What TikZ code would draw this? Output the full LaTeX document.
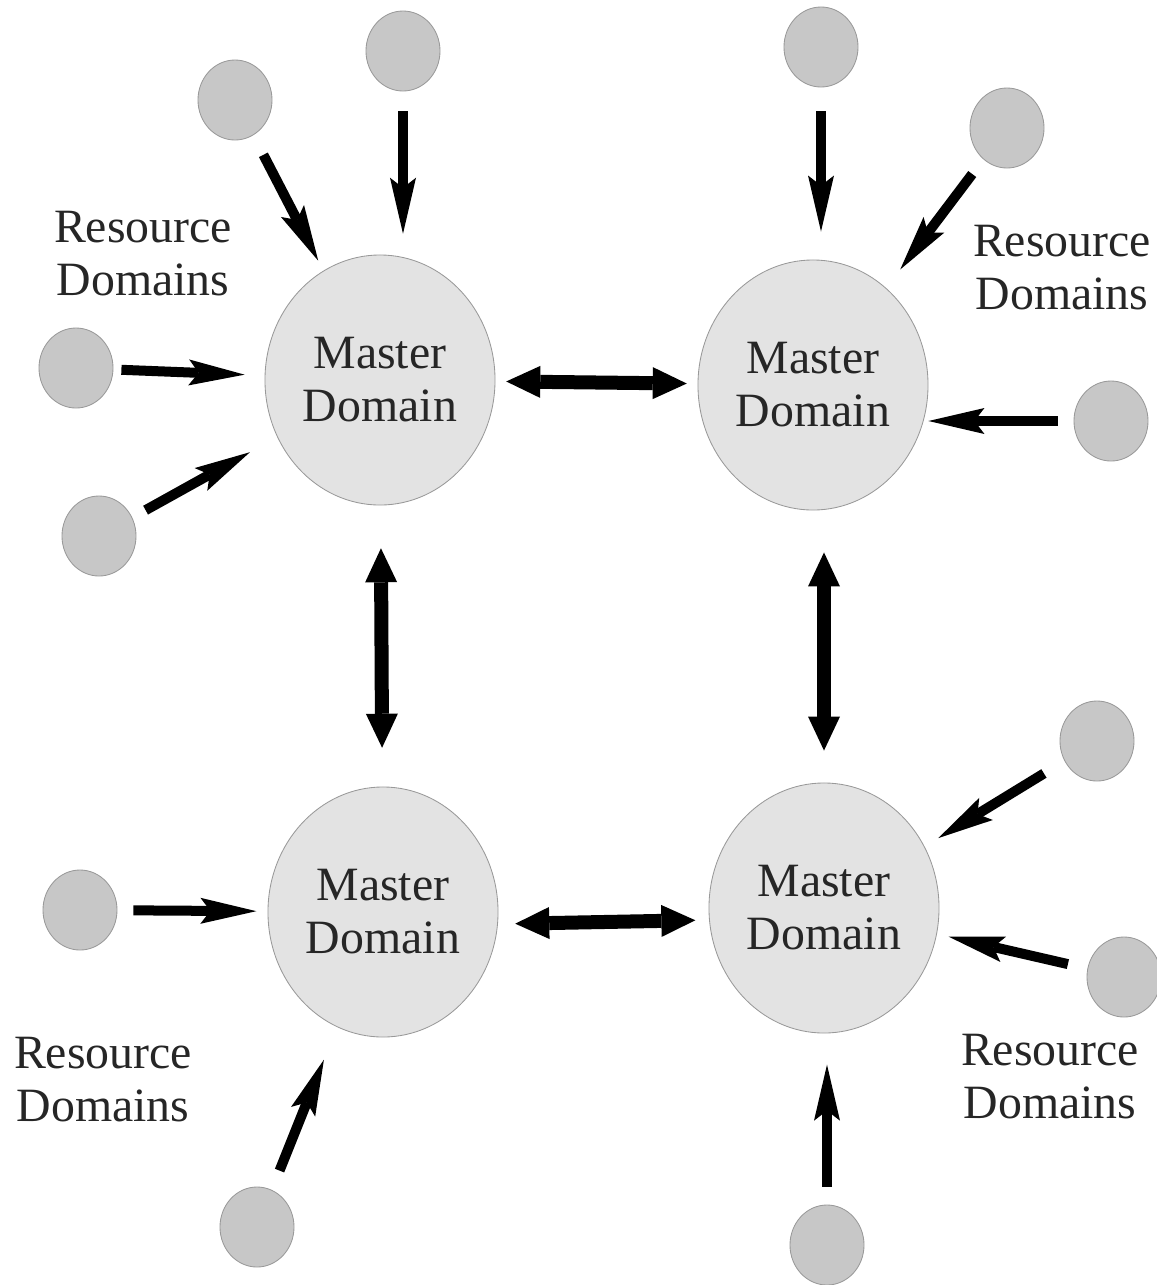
\documentclass[tikz,border=0pt]{standalone}
\usepackage{fontspec}
\setmainfont{Liberation Serif}
\usepackage{tikz}
\usepackage{xcolor}
\usetikzlibrary{arrows.meta,shapes.geometric,positioning,calc}

\begin{document}
\begin{tikzpicture}[x=0.025cm, y=-0.025cm,
    master/.style={ellipse, draw=gray!80, line width=0.6pt, fill=black!11, minimum width=5.75cm, minimum height=6.25cm, inner sep=0pt, align=center, text=black!85, font=\fontsize{34}{37.7}\selectfont},
    res/.style={ellipse, draw=gray!80, line width=0.6pt, fill=black!22, minimum width=1.85cm, minimum height=2cm, inner sep=0pt},
    lbl/.style={align=center, text=black!85, font=\fontsize{34}{37.7}\selectfont},
    feed/.style={line width=0.25cm, -{Stealth[length=1.4cm, width=0.65cm, inset=0.25cm, line width=0pt]}},
    link/.style={line width=0.35cm, {Triangle[length=0.85cm, width=0.8cm, line width=0pt]}-{Triangle[length=0.85cm, width=0.8cm, line width=0pt]}}]
    \useasboundingbox (0,0) rectangle (1157,1285);

    % Master domains
    \node[master] (m1) at (380,380) {Master\\Domain};
    \node[master] (m2) at (813,385) {Master\\Domain};
    \node[master] (m3) at (383,912) {Master\\Domain};
    \node[master] (m4) at (824,908) {Master\\Domain};

    % Resource domains
    \node[res] (c1) at (403,51) {};
    \node[res] (c2) at (235,100) {};
    \node[res] (c3) at (76,368) {};
    \node[res] (c4) at (99,536) {};
    \node[res] (c5) at (821,47) {};
    \node[res] (c6) at (1007,128) {};
    \node[res] (c7) at (1111,421) {};
    \node[res] (c8) at (80,910) {};
    \node[res] (c9) at (257,1227) {};
    \node[res] (c10) at (1097,741) {};
    \node[res] (c11) at (1124,977) {};
    \node[res] (c12) at (827,1245) {};

    % Labels
    \node[lbl] (l1) at (143,254) {Resource\\Domains};
    \node[lbl] (l2) at (1062,268) {Resource\\Domains};
    \node[lbl] (l3) at (103,1080) {Resource\\Domains};
    \node[lbl] (l4) at (1050,1077) {Resource\\Domains};

    % Resource domains to masters
    \draw[feed, shorten <=0.5cm, shorten >=0.52cm] (c1) -- (c1 |- m1.north);
    \draw[feed, shorten <=0.55cm, shorten >=0.28cm] (c2) -- (m1);
    \draw[feed, shorten <=0.2cm, shorten >=0.5cm] (c3) -- (m1);
    \draw[feed, shorten <=0.38cm, shorten >=0.78cm] (c4) -- (m1);
    \draw[feed, shorten <=0.6cm, shorten >=0.7cm] (c5) -- (c5 |- m2.north);
    \draw[feed, shorten <=0.46cm, shorten >=0.58cm] (c6) -- (m2);
    \draw[feed, shorten <=0.4cm] (c7) -- (c7 -| m2.east);
    \draw[feed, shorten <=0.4cm, shorten >=0.28cm] (c8) -- (m3);
    \draw[feed, shorten <=0.52cm, shorten >=0.88cm] (c9) -- (m3);
    \draw[feed, shorten <=0.6cm, shorten >=0.4cm] (c10) -- (m4);
    \draw[feed, shorten <=0.5cm, shorten >=0.3cm] (c11) -- (m4);
    \draw[feed, shorten <=0.45cm, shorten >=0.78cm] (c12) -- (c12 |- m4.south);

    % Links between masters
    \draw[link, shorten <=0.27cm, shorten >=0.27cm] (m1) -- (m2);
    \draw[link, shorten <=1.07cm, shorten >=0.97cm] (m1) -- (m3);
    \draw[link, shorten <=1.05cm, shorten >=0.8cm] (m4 |- m2.south) -- (m4.north);
    \draw[link, shorten <=0.42cm, shorten >=0.33cm] ([yshift=-0.3cm]m3.east) -- ([yshift=-0.3cm]m4.west);
\end{tikzpicture}
\end{document}
